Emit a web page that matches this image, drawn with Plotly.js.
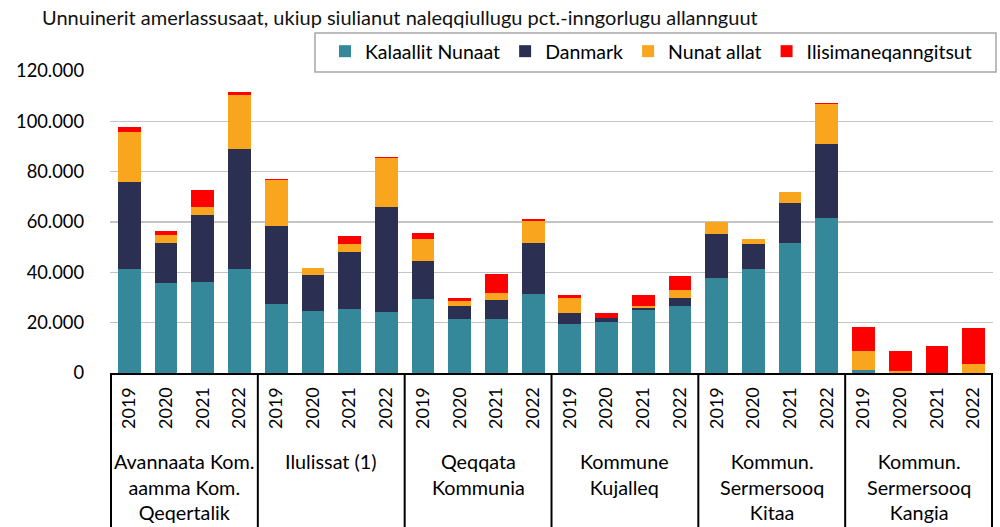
<!DOCTYPE html>
<html><head><meta charset="utf-8">
<script src="https://cdn.plot.ly/plotly-3.0.1.min.js"></script>
<style>html,body{margin:0;padding:0;background:#fff}#chart{width:1000px;height:527px}</style>
</head><body><div id="chart"></div>
<script>
const titleText = "Unnuinerit amerlassusaat, ukiup siulianut naleqqiullugu pct.-inngorlugu allannguut";
const groups = ["Avannaata Kom.<br>aamma Kom.<br>Qeqertalik", "Ilulissat (1)", "Qeqqata<br>Kommunia", "Kommune<br>Kujalleq", "Kommun.<br>Sermersooq<br>Kitaa", "Kommun.<br>Sermersooq<br>Kangia"];
const years = ["2019", "2020", "2021", "2022"];
const seriesNames = ["Kalaallit Nunaat", "Danmark", "Nunat allat", "Ilisimaneqanngitsut"];
const kalaallit = [41200,35800,36100,41200, 27400,24600,25400,24100, 29400,21300,21500,31300, 19500,20400,25000,26500, 37700,41200,51500,61500, 1000,200,100,200];
const danmark   = [34800,15800,26600,48000, 30900,14300,22700,41800, 15000,5400,7600,20500, 4500,1300,900,3400, 17400,9900,15900,29300, 200,0,0,0];
const nunat     = [19900,3200,3200,21200, 18400,2700,3000,19700, 8700,2000,2800,8500, 5800,300,700,3000, 5100,2000,4700,15900, 7400,400,0,3500];
const ilisim    = [1800,1700,6700,1200, 500,0,3200,300, 2400,1100,7500,1000, 1100,1800,4300,5800, 0,0,0,500, 9800,8200,10800,14200];
const yTicks = [0,20000,40000,60000,80000,100000,120000];

const colors = ["#35879a", "#2b3053", "#f9a51d", "#ff0000"];
const FONT = "Lato, 'Open Sans', sans-serif";

const keys = [], tickText = [];
groups.forEach((g, gi) => years.forEach(y => { keys.push(gi + "-" + y); tickText.push(y); }));

const vals = [kalaallit, danmark, nunat, ilisim];
const data = vals.map((v, i) => ({
  type: "bar", name: seriesNames[i], x: keys, y: v,
  marker: {color: colors[i], line: {width: 0}},
  hoverinfo: "skip"
}));

const L = 110, R = 7, T = 71, B = 154, W = 1000, H = 527;
const plotW = W - L - R, plotH = H - T - B;
const px = v => (v - L) / plotW;
const py = v => (H - B - v) / plotH;

const shapes = [];
for (let gi = 0; gi <= groups.length; gi++) {
  const xv = gi * years.length - 0.5;
  shapes.push({type: "line", xref: "x", yref: "paper", x0: xv, x1: xv, y0: 0, y1: py(H),
               line: {color: "#000", width: 2}});
}
// legend frame
shapes.push({type: "rect", xref: "paper", yref: "paper", x0: px(315), x1: px(996), y0: py(33), y1: py(72),
             line: {color: "#a6a6a6", width: 1.5}, fillcolor: "#fff", layer: "above"});

const annotations = groups.map((g, gi) => ({
  xref: "x", yref: "paper", x: gi * years.length + (years.length - 1) / 2,
  y: py(447), yanchor: "top", xanchor: "center", showarrow: false,
  text: g, align: "center", font: {family: FONT, size: 19.8, color: "#000"}
}));

const layout = {
  width: W, height: H,
  margin: {l: L, r: R, t: T, b: B},
  paper_bgcolor: "#fff", plot_bgcolor: "#fff",
  barmode: "stack", bargap: 0.38,
  separators: ",.",
  font: {family: FONT, size: 18, color: "#000"},
  title: {text: titleText, x: 0.042, xanchor: "left", xref: "container", y: 1 - 18/H, yref: "container", yanchor: "middle",
          font: {family: FONT, size: 20, color: "#111"}},
  showlegend: true,
  legend: {orientation: "h", traceorder: "normal", x: px(325), xanchor: "left", y: py(32), yanchor: "top",
           borderwidth: 0, bgcolor: "rgba(0,0,0,0)",
           font: {family: FONT, size: 19.5, color: "#000"}},
  xaxis: {type: "category", tickvals: keys, ticktext: tickText, tickangle: -90,
          showgrid: false, showline: true, linecolor: "#000", linewidth: 2, ticks: "",
          ticklabelstandoff: 5,
          tickfont: {family: FONT, size: 18, color: "#000"}, fixedrange: true},
  yaxis: {range: [0, 120000], tickvals: yTicks, tickformat: ",d", showgrid: true,
          gridcolor: "#c4c4c4", gridwidth: 1.5, zeroline: false, showline: false, ticks: "",
          ticklabelstandoff: 25, tickfont: {family: FONT, size: 18.3, color: "#000"}, fixedrange: true},
  shapes: shapes, annotations: annotations
};
Plotly.newPlot("chart", data, layout, {displayModeBar: false, staticPlot: true});
</script></body></html>
